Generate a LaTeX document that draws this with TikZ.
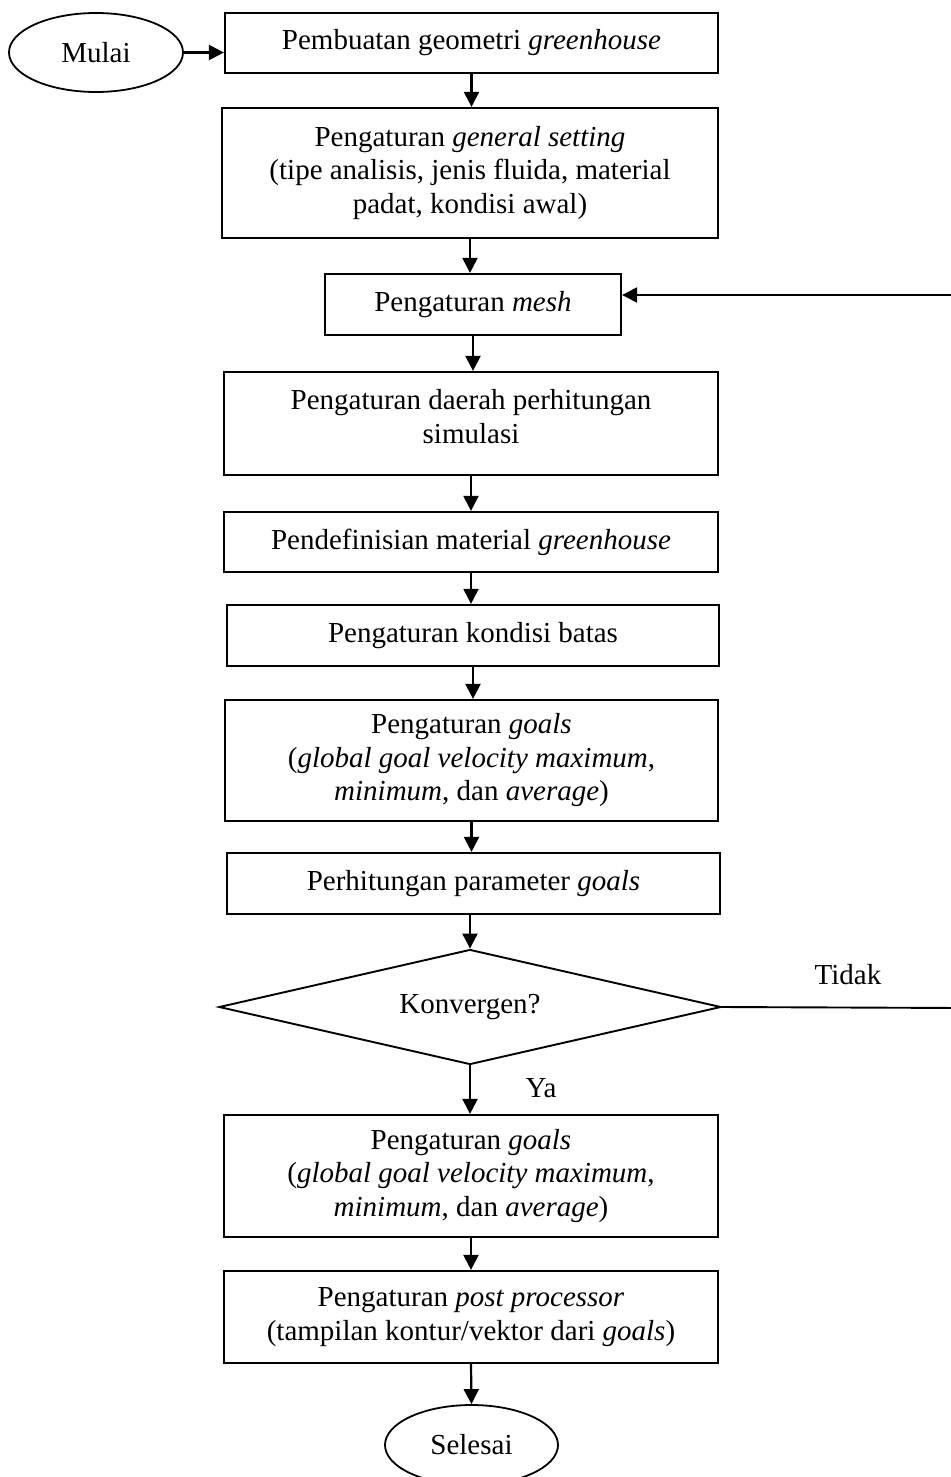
\documentclass[tikz,border=0pt]{standalone}
\usepackage{fontspec}
\setmainfont{Liberation Serif}
\usetikzlibrary{shapes.geometric,arrows.meta}
\begin{document}
\begin{tikzpicture}[x=1pt,y=-1pt,
  every node/.style={font=\fontsize{29}{33.5}\selectfont, inner sep=0pt},
  procbox/.style={draw, line width=2.2pt, rectangle, align=center},
  termnode/.style={draw, line width=1.8pt, ellipse, minimum width=174pt, minimum height=79pt},
  decnode/.style={draw, line width=1.9pt, diamond, aspect=4.4, minimum width=502pt, minimum height=115pt},
  arr/.style={line width=2.2pt, -{Triangle[length=15pt,width=15pt]}},
  plain/.style={line width=1.9pt},
  lbl/.style={}
]
\useasboundingbox (0,0) rectangle (950,1477);

\node[termnode] (start) at (96,52.5) {Mulai};
\node[procbox, minimum width=493pt, minimum height=60pt] (b1) at (471.5,43) {Pembuatan geometri \textit{greenhouse}};
\node[procbox, minimum width=496pt, minimum height=130pt] (b2) at (470,173) {Pengaturan \textit{general setting}\\(tipe analisis, jenis fluida, material\\padat, kondisi awal)};
\node[procbox, minimum width=296pt, minimum height=61pt] (b3) at (473,304.5) {Pengaturan \textit{mesh}};
\node[procbox, minimum width=494pt, minimum height=103pt, text depth=14pt] (b4) at (471,423.5) {Pengaturan daerah perhitungan\\simulasi};
\node[procbox, minimum width=494pt, minimum height=60pt] (b5) at (471,542) {Pendefinisian material \textit{greenhouse}};
\node[procbox, minimum width=492pt, minimum height=61pt] (b6) at (473,635.5) {Pengaturan kondisi batas};
\node[procbox, minimum width=493pt, minimum height=121pt] (b7) at (471.5,760.5) {Pengaturan \textit{goals}\\(\textit{global goal velocity maximum},\\\textit{minimum}, dan \textit{average})};
\node[procbox, minimum width=493pt, minimum height=61pt] (b8) at (473.5,883.5) {Perhitungan parameter \textit{goals}};
\node[decnode] (dec) at (470,1007) {Konvergen?};
\node[procbox, minimum width=494pt, minimum height=122pt] (b9) at (471,1176) {Pengaturan \textit{goals}\\(\textit{global goal velocity maximum},\\\textit{minimum}, dan \textit{average})};
\node[procbox, minimum width=494pt, minimum height=92pt] (b10) at (471,1317) {Pengaturan \textit{post processor}\\(tampilan kontur/vektor dari \textit{goals})};
\node[termnode, minimum width=173pt, minimum height=80pt] (end) at (471.5,1445) {Selesai};

\node[lbl] (tidak) at (848,975) {Tidak};
\node[lbl] (ya) at (541,1088) {Ya};

\coordinate (fb1) at (962,1008);
\coordinate (fb2) at (962,295);

\draw[arr] (start) -- (start -| b1.west);
\draw[arr] (b1) -- (b1 |- b2.north);
\draw[arr] (b2) -- (b2 |- b3.north);
\draw[arr] (b3) -- (b3 |- b4.north);
\draw[arr] (b4) -- (b4 |- b5.north);
\draw[arr] (b5) -- (b5 |- b6.north);
\draw[arr] (b6) -- (b6 |- b7.north);
\draw[arr] (b7) -- (b7 |- b8.north);
\draw[arr] (dec.north |- b8.south) -- (dec.north);
\draw[arr] (dec.south) -- (dec.south |- b9.north);
\draw[arr] (b9) -- (b9 |- b10.north);
\draw[arr] (b10.south) -- (end.north);
\draw[plain] (dec.east) -- (fb1) -- (fb2);
\draw[arr] (fb2) -- (b3.east |- fb2);
\end{tikzpicture}
\end{document}
